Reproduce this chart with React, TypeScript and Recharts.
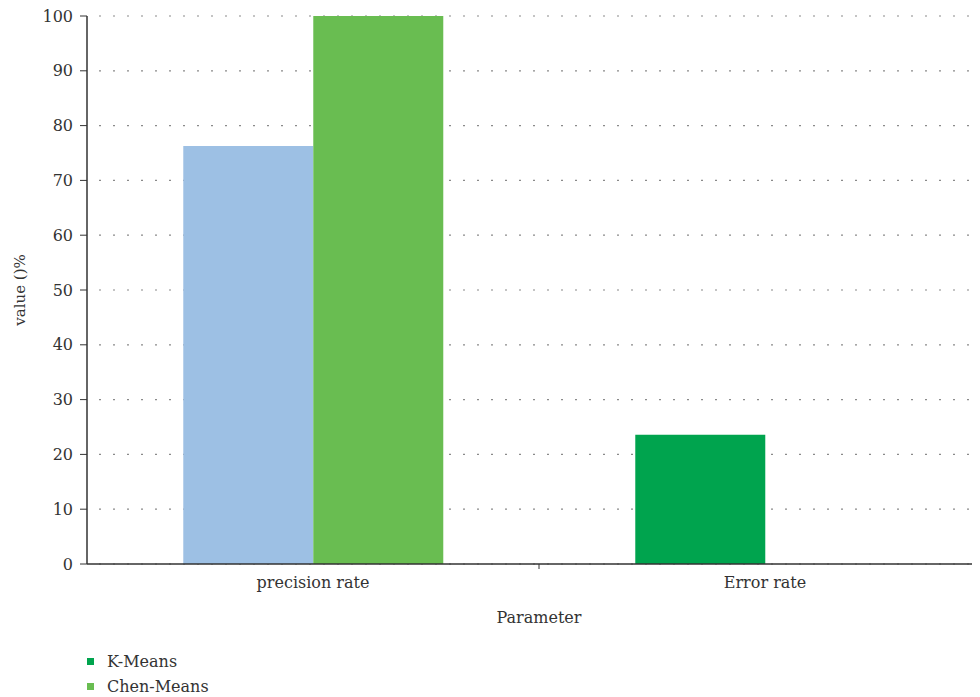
import React from 'react';
import { BarChart, Bar, XAxis, YAxis, CartesianGrid, Cell } from 'recharts';

const categories = ['precision rate', 'Error rate'];
const kMeans = [76.3, 23.6];
const chenMeans = [100, 0];
const yTicks = [0, 10, 20, 30, 40, 50, 60, 70, 80, 90, 100];
const seriesNames = ['K-Means', 'Chen-Means'];

const data = categories.map((name, i) => ({
  name,
  kMeans: kMeans[i],
  chenMeans: chenMeans[i],
}));

const FONT = '"DejaVu Serif", "Liberation Serif", serif';
const TEXT = '#333333';
const kMeansCells = ['#9DC0E4', '#00A44E'];
const chenColor = '#69BD51';
const legendColors = ['#00A44E', '#69BD51'];
const TICK_MARGIN = 13;

// category label, plus a short tick at the boundary to the next category
const CategoryTick = (props: any) => {
  const { x, y, payload, index, width } = props;
  const band = width / categories.length;
  const axisY = y - TICK_MARGIN;
  return (
    <g>
      {index < categories.length - 1 && (
        <line x1={x + band / 2} x2={x + band / 2} y1={axisY} y2={axisY + 5} stroke="#333" strokeWidth={1} />
      )}
      <text x={x} y={y} dy="0.71em" textAnchor="middle" fill={TEXT} fontSize={16} fontFamily={FONT}>
        {payload.value}
      </text>
    </g>
  );
};

const App: React.FC = () => {
  return (
    <div style={{ width: 972, height: 689, overflow: 'hidden', position: 'relative', fontFamily: FONT }}>
      <BarChart
        width={1000}
        height={640}
        data={data}
        margin={{ top: 8, right: 17, left: 0, bottom: 0 }}
        barCategoryGap="21.3%"
        barGap={0}
      >
        <CartesianGrid
          horizontal
          vertical={false}
          stroke="#8a8a8a"
          strokeWidth={1.2}
          strokeDasharray="0 12 2 0"
        />
        <XAxis
          dataKey="name"
          height={84}
          axisLine={{ stroke: '#333', strokeWidth: 1.5 }}
          tickLine={false}
          tickSize={0}
          tickMargin={TICK_MARGIN}
          tick={<CategoryTick />}
          label={{ value: 'Parameter', position: 'insideBottom', offset: 25, fill: TEXT, fontSize: 16, fontFamily: FONT }}
        />
        <YAxis
          width={79}
          domain={[0, 100]}
          ticks={yTicks}
          interval={0}
          tickSize={7}
          tickMargin={7}
          axisLine={{ stroke: '#333', strokeWidth: 1.5 }}
          tickLine={{ stroke: '#333' }}
          tick={{ fontSize: 16, fill: TEXT, fontFamily: FONT }}
          label={{
            value: 'value ()%',
            angle: -90,
            position: 'insideLeft',
            offset: 12,
            style: { textAnchor: 'middle' },
            fill: TEXT,
            fontSize: 15,
            fontFamily: FONT,
          }}
        />
        <Bar dataKey="kMeans" name={seriesNames[0]} isAnimationActive={false}>
          {data.map((_, i) => (
            <Cell key={i} fill={kMeansCells[i]} />
          ))}
        </Bar>
        <Bar dataKey="chenMeans" name={seriesNames[1]} fill={chenColor} isAnimationActive={false} />
      </BarChart>
      <div style={{ position: 'absolute', left: 79, top: 641, fontSize: 16, color: TEXT, lineHeight: '25px' }}>
        {seriesNames.map((s, i) => (
          <div key={s} style={{ display: 'flex', alignItems: 'center' }}>
            <span style={{ display: 'inline-block', width: 7, height: 7, background: legendColors[i], marginRight: 13 }} />
            {s}
          </div>
        ))}
      </div>
    </div>
  );
};

export default App;
